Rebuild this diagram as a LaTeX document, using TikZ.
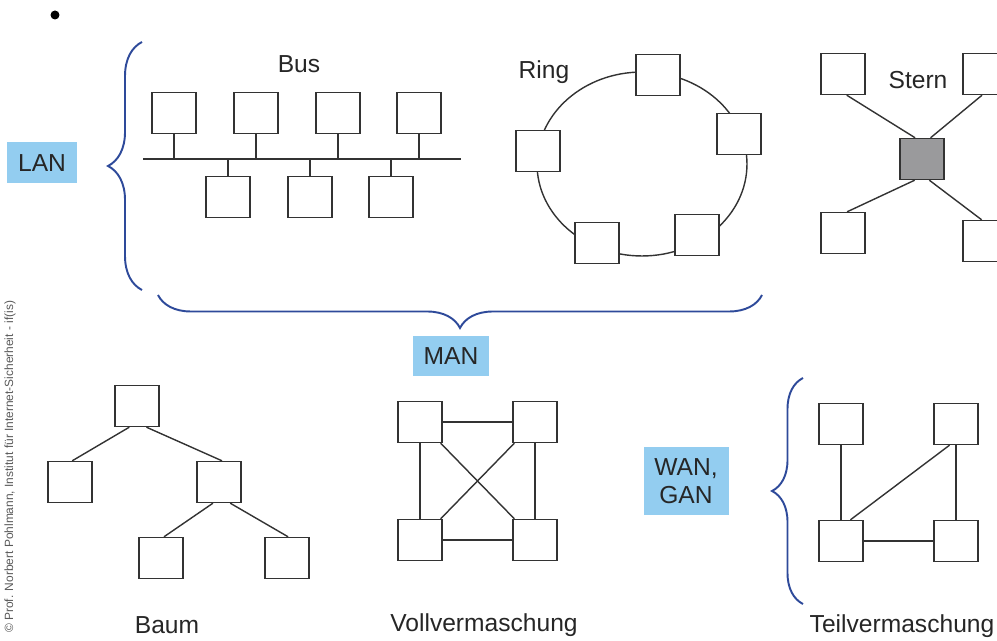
\documentclass[tikz,border=0pt]{standalone}
\usepackage{fontspec}
\setmainfont{Liberation Sans}
\usetikzlibrary{decorations.pathreplacing}
\definecolor{CBlueLight}{HTML}{93CDF0}
\definecolor{CBlueDark}{HTML}{2E4A9A}
\definecolor{CGrayMid}{HTML}{9A9A9C}
\definecolor{CLine}{HTML}{333333}

\begin{document}
\begin{tikzpicture}[x=0.02cm, y=-0.02cm,
    pc/.style={draw=CLine, line width=0.8pt, fill=white, minimum width=0.88cm, minimum height=0.82cm, inner sep=0pt},
    hub/.style={pc, fill=CGrayMid},
    tag/.style={fill=CBlueLight, font=\fontsize{14}{16}\selectfont, text=black!85, inner sep=0pt, align=center},
    title/.style={font=\fontsize{14}{16}\selectfont, text=black!85},
    link/.style={draw=CLine, line width=0.8pt},
    curly/.style={draw=CBlueDark, line width=1.1pt, decorate, decoration={brace, amplitude=#1}}
]
  \useasboundingbox (0,0) rectangle (997,641);
  \fill (55,15) circle[radius=0.09cm];
  \node[rotate=90, anchor=west, text=black!65, font=\fontsize{6.8}{7}\selectfont] (copy) at (10,639) {\textcopyright{} Prof. Norbert Pohlmann, Institut für Internet-Sicherheit - if(is)};

  \node[title] (busT) at (299,64) {Bus};
  \foreach \x [count=\i] in {174,256,338,419} \node[pc] (bt\i) at (\x,113) {};
  \foreach \x [count=\i] in {228,310,391} \node[pc] (bb\i) at (\x,197) {};
  \coordinate (busL) at (143,159);
  \coordinate (busR) at (461,159);
  \draw[link] (busL) -- (busR);
  \foreach \i in {1,...,4} \draw[link] (bt\i.south) -- (bt\i.south |- busL);
  \foreach \i in {1,2,3} \draw[link] (bb\i.north) -- (bb\i.north |- busL);

  \node[title] (ringT) at (544,72) {Ring};
  \coordinate (ringC) at (642,164);
  \draw[link] (ringC) ellipse [x radius=2.1cm, y radius=1.84cm];
  \node[pc] (r1) at (658,75) {};
  \node[pc] (r2) at (739,134) {};
  \node[pc] (r3) at (697,235) {};
  \node[pc] (r4) at (597,243) {};
  \node[pc] (r5) at (538,151) {};

  \node[title] (sternT) at (918,80) {Stern};
  \node[hub] (ctr) at (922,159) {};
  \node[pc] (s1) at (843,74) {};
  \node[pc] (s2) at (985,74) {};
  \node[pc] (s3) at (843,233) {};
  \node[pc] (s4) at (985,241) {};
  \draw[link] (ctr.108) -- (s1.280);
  \draw[link] (ctr.68) -- (s2.262);
  \draw[link] (ctr.251) -- (s3.79);
  \draw[link] (ctr.289) -- (s4.99);

  \node[tag, minimum width=1.4cm, minimum height=0.82cm] (lan) at (42,163) {LAN};
  \coordinate (lanB) at (142,290);
  \coordinate (lanE) at (142,42);
  \draw[curly=0.68cm] (lanB) -- (lanE);

  \coordinate (manB) at (762,295);
  \coordinate (manE) at (158,295);
  \draw[curly=0.66cm] (manB) -- (manE);
  \node[tag, minimum width=1.52cm, minimum height=0.82cm] (man) at (451,356) {MAN};

  \node[pc] (b0) at (137,406) {};
  \node[pc] (b1) at (70,482) {};
  \node[pc] (b2) at (219,482) {};
  \node[pc] (b3) at (161,558) {};
  \node[pc] (b4) at (287,558) {};
  \draw[link] (b0.250) -- (b1.84);
  \draw[link] (b0.294) -- (b2.82);
  \draw[link] (b2.254) -- (b3.82);
  \draw[link] (b2.298) -- (b4.87);
  \node[title] (baumT) at (167,625) {Baum};

  \node[pc] (v1) at (420,422) {};
  \node[pc] (v2) at (535,422) {};
  \node[pc] (v3) at (420,540) {};
  \node[pc] (v4) at (535,540) {};
  \draw[link] (v1) -- (v2);
  \draw[link] (v1) -- (v3);
  \draw[link] (v2) -- (v4);
  \draw[link] (v3) -- (v4);
  \draw[link] (v1) -- (v4);
  \draw[link] (v2) -- (v3);
  \node[title] (vollT) at (484,625) {Vollvermaschung};

  \node[tag, minimum width=1.7cm, minimum height=1.36cm] (wan) at (686,481) {WAN,\\GAN};
  \coordinate (wanB) at (803,604);
  \coordinate (wanE) at (803,378);
  \draw[curly=0.62cm] (wanB) -- (wanE);

  \node[pc] (t1) at (841,424) {};
  \node[pc] (t2) at (956,424) {};
  \node[pc] (t3) at (841,541) {};
  \node[pc] (t4) at (956,541) {};
  \draw[link, line width=1.1pt] (t1) -- (t3);
  \draw[link] (t2) -- (t4);
  \draw[link, line width=1.1pt] (t3) -- (t4);
  \draw[link] (t3.66) -- (t2.253);
  \node[title] (teilT) at (902,626) {Teilvermaschung};
\end{tikzpicture}
\end{document}
